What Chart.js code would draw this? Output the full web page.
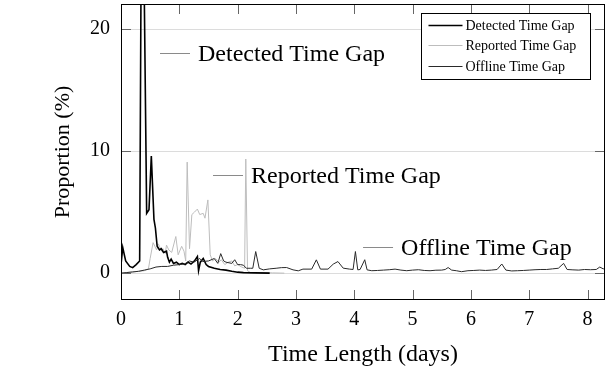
<!DOCTYPE html>
<html>
<head>
<meta charset="utf-8">
<script src="https://cdn.jsdelivr.net/npm/chart.js@4/dist/chart.umd.min.js"></script>
<style>
  html, body { margin: 0; padding: 0; background: #fff; }
  canvas { display: block; }
</style>
</head>
<body>
<canvas id="gap-chart" width="608" height="377"></canvas>
<script>
// tick labels
const xTicks = [0, 1, 2, 3, 4, 5, 6, 7, 8];
const yTicks = [0, 10, 20];

// Detected Time Gap (days, %)
const detectedX = [0, 0.03, 0.08, 0.15, 0.2, 0.26, 0.32, 0.36, 0.44, 0.48, 0.52, 0.565, 0.59, 0.62, 0.66, 0.69, 0.73, 0.78, 0.8, 0.83, 0.86, 0.9, 0.95, 1.0, 1.05, 1.1, 1.15, 1.2, 1.26, 1.31, 1.33, 1.36, 1.41, 1.46, 1.5, 1.6, 1.7, 1.8, 1.9, 2.0, 2.1, 2.3, 2.55];
const detectedY = [0.7, 2.1, 1.0, 0.55, 0.45, 0.7, 1.0, 40, 4.9, 5.2, 9.6, 4.4, 3.7, 2.2, 1.9, 2.0, 1.7, 1.8, 1.3, 0.9, 1.15, 0.8, 0.9, 0.7, 0.8, 0.7, 0.9, 0.75, 1.0, 1.35, 0.2, 0.9, 1.2, 0.7, 0.55, 0.4, 0.3, 0.25, 0.15, 0.08, 0.04, 0.02, 0.0];

// Reported Time Gap
const reportedX = [0, 0.1, 0.2, 0.3, 0.4, 0.47, 0.5, 0.55, 0.58, 0.61, 0.64, 0.66, 0.7, 0.72, 0.76, 0.78, 0.82, 0.87, 0.94, 0.98, 1.04, 1.08, 1.11, 1.135, 1.175, 1.215, 1.26, 1.31, 1.35, 1.41, 1.44, 1.49, 1.53, 1.57, 1.62, 1.68, 1.72, 1.78, 1.84, 1.9, 1.95, 2.0, 2.07, 2.12, 2.14, 2.17, 2.22, 2.4, 2.6, 2.8];
const reportedY = [0.0, 0.05, 0.1, 0.15, 0.2, 0.35, 1.2, 2.5, 2.2, 1.9, 2.4, 2.2, 1.8, 2.0, 1.6, 2.3, 1.9, 1.7, 3.0, 1.5, 2.2, 1.8, 1.0, 9.1, 2.0, 4.8, 5.0, 5.25, 4.8, 4.9, 4.5, 6.0, 1.5, 1.0, 1.2, 0.9, 1.1, 0.7, 0.9, 1.0, 0.6, 0.7, 0.5, 0.4, 9.35, 0.2, 0.05, 0.05, 0.02, 0.0];

// Offline Time Gap
const offlineX = [0, 0.1, 0.2, 0.3, 0.4, 0.5, 0.6, 0.7, 0.8, 0.9, 1.0, 1.09, 1.17, 1.25, 1.35, 1.4, 1.5, 1.6, 1.66, 1.71, 1.76, 1.8, 1.9, 1.95, 2.0, 2.05, 2.1, 2.15, 2.22, 2.26, 2.31, 2.37, 2.44, 2.55, 2.66, 2.75, 2.84, 2.95, 3.04, 3.12, 3.27, 3.35, 3.42, 3.55, 3.64, 3.72, 3.81, 3.92, 3.98, 4.02, 4.06, 4.1, 4.18, 4.22, 4.3, 4.4, 4.5, 4.6, 4.7, 4.8, 4.9, 5.0, 5.1, 5.2, 5.3, 5.4, 5.5, 5.56, 5.61, 5.67, 5.75, 5.84, 5.95, 6.05, 6.15, 6.25, 6.35, 6.45, 6.53, 6.6, 6.7, 6.8, 6.9, 7.0, 7.1, 7.2, 7.3, 7.4, 7.5, 7.59, 7.65, 7.75, 7.85, 7.95, 8.05, 8.15, 8.21, 8.27, 8.3];
const offlineY = [0.0, 0.05, 0.1, 0.15, 0.25, 0.35, 0.5, 0.55, 0.55, 0.65, 0.7, 0.75, 1.0, 0.9, 1.2, 0.95, 1.0, 1.2, 0.8, 1.6, 1.0, 0.9, 0.8, 1.1, 0.7, 0.7, 0.65, 0.4, 0.4, 0.4, 1.77, 0.4, 0.27, 0.35, 0.4, 0.45, 0.46, 0.27, 0.19, 0.33, 0.33, 1.09, 0.33, 0.33, 0.74, 0.95, 0.41, 0.33, 0.3, 1.77, 0.27, 0.3, 1.1, 0.27, 0.2, 0.22, 0.25, 0.28, 0.33, 0.25, 0.2, 0.25, 0.28, 0.22, 0.2, 0.24, 0.25, 0.3, 0.46, 0.25, 0.2, 0.12, 0.2, 0.22, 0.25, 0.22, 0.25, 0.3, 0.75, 0.25, 0.18, 0.2, 0.22, 0.25, 0.28, 0.3, 0.3, 0.35, 0.4, 0.8, 0.3, 0.27, 0.25, 0.3, 0.28, 0.3, 0.5, 0.35, 0.4];

// in-plot labels: text and the data point where the short line starts
const notes = [
  { text: 'Detected Time Gap', x: 0.669, y: 18.04 },
  { text: 'Reported Time Gap', x: 1.578, y: 8.05 },
  { text: 'Offline Time Gap', x: 4.151, y: 2.15 }
];

const serif = '"Liberation Serif", "Times New Roman", serif';

function pts(xs, ys) {
  return xs.map((x, i) => ({ x: x, y: ys[i] }));
}

const decor = {
  id: 'decor',
  afterDatasetsDraw(chart) {
    const ctx = chart.ctx;
    const a = chart.chartArea;
    const xs = chart.scales.x, ys = chart.scales.y;
    ctx.save();

    // inward tick marks on all four sides
    ctx.strokeStyle = '#666';
    ctx.lineWidth = 1;
    ctx.beginPath();
    xTicks.forEach(v => {
      const p = Math.round(xs.getPixelForValue(v)) + 0.5;
      ctx.moveTo(p, a.bottom); ctx.lineTo(p, a.bottom - 10);
      ctx.moveTo(p, a.top); ctx.lineTo(p, a.top + 10);
    });
    yTicks.forEach(v => {
      const p = Math.round(ys.getPixelForValue(v)) + 0.5;
      ctx.moveTo(a.left, p); ctx.lineTo(a.left + 10, p);
      ctx.moveTo(a.right, p); ctx.lineTo(a.right - 10, p);
    });
    ctx.stroke();

    // frame
    ctx.strokeStyle = '#000';
    ctx.strokeRect(Math.round(a.left) + 0.5, Math.round(a.top) + 0.5,
      Math.round(a.width) - 1, Math.round(a.height) - 1);

    // in-plot labels
    ctx.font = '24px ' + serif;
    ctx.textBaseline = 'middle';
    ctx.textAlign = 'left';
    notes.forEach(n => {
      const px = xs.getPixelForValue(n.x);
      const py = Math.round(ys.getPixelForValue(n.y)) + 0.5;
      ctx.strokeStyle = '#8a8a8a';
      ctx.beginPath();
      ctx.moveTo(px, py); ctx.lineTo(px + 30, py);
      ctx.stroke();
      ctx.fillStyle = '#000';
      ctx.fillText(n.text, px + 38, py + 1);
    });

    // legend box in the top right corner
    const bw = 169, bh = 66;
    const bx = Math.round(a.right - 15 - bw) + 0.5;
    const by = Math.round(a.top + 9) + 0.5;
    ctx.fillStyle = '#fff';
    ctx.fillRect(bx, by, bw, bh);
    ctx.strokeStyle = '#000';
    ctx.lineWidth = 1;
    ctx.strokeRect(bx, by, bw, bh);
    ctx.font = '14px ' + serif;
    chart.data.datasets.forEach((ds, i) => {
      const ry = Math.round(by + 11 + i * 20.5) + 0.5;
      ctx.strokeStyle = ds.borderColor;
      ctx.lineWidth = ds.borderWidth;
      ctx.beginPath();
      ctx.moveTo(bx + 7, ry); ctx.lineTo(bx + 41, ry);
      ctx.stroke();
      ctx.fillStyle = '#000';
      ctx.fillText(ds.label, bx + 44, ry + 1);
    });
    ctx.restore();
  }
};

new Chart(document.getElementById('gap-chart'), {
  type: 'line',
  data: {
    datasets: [
      {
        label: 'Detected Time Gap',
        data: pts(detectedX, detectedY),
        borderColor: '#000',
        borderWidth: 1.6,
        order: 2
      },
      {
        label: 'Reported Time Gap',
        data: pts(reportedX, reportedY),
        borderColor: '#bdbdbd',
        borderWidth: 1,
        order: 3
      },
      {
        label: 'Offline Time Gap',
        data: pts(offlineX, offlineY),
        borderColor: '#2a2a2a',
        borderWidth: 1,
        order: 1
      }
    ]
  },
  options: {
    responsive: false,
    animation: false,
    devicePixelRatio: 1,
    layout: { padding: { left: 0, right: 3, top: 4, bottom: 0 } },
    elements: {
      point: { radius: 0 },
      line: { tension: 0, fill: false }
    },
    plugins: {
      legend: { display: false },
      tooltip: { enabled: false }
    },
    scales: {
      x: {
        type: 'linear',
        min: 0,
        max: 8.3,
        afterBuildTicks: s => { s.ticks = xTicks.map(v => ({ value: v })); },
        afterFit: s => { s.height = 77; s.paddingLeft = 0; s.paddingRight = 0; },
        grid: { display: false, drawTicks: false },
        border: { display: false },
        ticks: {
          padding: 8,
          color: '#000',
          font: { family: serif, size: 20 }
        },
        title: {
          display: true,
          text: 'Time Length (days)',
          color: '#000',
          font: { family: serif, size: 24 },
          padding: { top: 0, bottom: 7.6 }
        }
      },
      y: {
        type: 'linear',
        min: -2.2,
        max: 22.05,
        afterBuildTicks: s => { s.ticks = yTicks.map(v => ({ value: v })); },
        afterFit: s => { s.width = 121; s.paddingTop = 0; s.paddingBottom = 0; },
        grid: { color: '#dcdcdc', lineWidth: 1, drawTicks: false },
        border: { display: false },
        ticks: {
          padding: 11,
          color: '#000',
          font: { family: serif, size: 20 }
        },
        title: {
          display: true,
          text: 'Proportion (%)',
          color: '#000',
          font: { family: serif, size: 22 },
          padding: { top: 50, bottom: 0 }
        }
      }
    }
  },
  plugins: [decor]
});
</script>
</body>
</html>
